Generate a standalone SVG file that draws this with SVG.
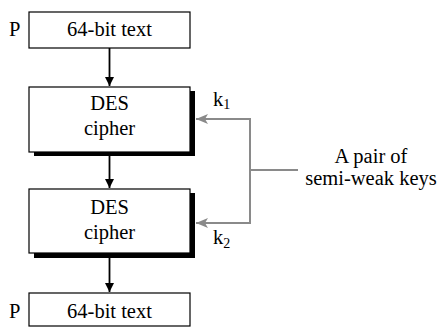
<svg xmlns="http://www.w3.org/2000/svg" width="443" height="327" viewBox="0 0 443 327">
<defs>
<style>
text{font-family:"Liberation Serif","Times New Roman",serif;font-size:20.5px;fill:#000}
.sub{font-size:14px}
.box{fill:#fff;stroke:#000;stroke-width:1.2}
.sh{fill:#000}
.blk{stroke:#000;stroke-width:1.8;fill:none}
.gr{stroke:#8a8a8a;stroke-width:2;fill:none}
</style>
<marker id="ab" viewBox="0 0 10 10" refX="10" refY="5" markerWidth="9" markerHeight="9" markerUnits="userSpaceOnUse" orient="auto"><path d="M0,0 L10,5 L0,10 Z" fill="#000"/></marker>
<marker id="ag" viewBox="0 0 12 10" refX="12" refY="5" markerWidth="12" markerHeight="10" markerUnits="userSpaceOnUse" orient="auto"><path d="M0,0 L12,5 L0,10 L3,5 Z" fill="#8a8a8a"/></marker>
</defs>
<rect width="443" height="327" fill="#fff"/>
<g id="top">
<rect class="box" x="29" y="12" width="161" height="36"/>
<text x="109.5" y="35.5" text-anchor="middle">64-bit text</text>
<text x="9" y="35.5">P</text>
</g>
<g id="des1">
<rect class="sh" x="34" y="91" width="161" height="65"/>
<rect class="box" x="29" y="87" width="161" height="65"/>
<text x="109.5" y="110" text-anchor="middle">DES</text>
<text x="109.5" y="135" text-anchor="middle">cipher</text>
</g>
<g id="des2">
<rect class="sh" x="34" y="193" width="161" height="65"/>
<rect class="box" x="29" y="189" width="161" height="64"/>
<text x="109.5" y="214" text-anchor="middle">DES</text>
<text x="109.5" y="239" text-anchor="middle">cipher</text>
</g>
<g id="bottom">
<rect class="box" x="29" y="293" width="161" height="33"/>
<text x="109.5" y="318" text-anchor="middle">64-bit text</text>
<text x="9" y="318">P</text>
</g>
<g id="keys">
<text x="371" y="163" text-anchor="middle">A pair of</text>
<text x="371" y="185" text-anchor="middle">semi-weak keys</text>
<text x="213" y="106">k<tspan class="sub" dy="3">1</tspan></text>
<text x="213" y="244">k<tspan class="sub" dy="4">2</tspan></text>
</g>
<g id="connectors">
<line class="blk" x1="109.5" y1="48" x2="109.5" y2="86" marker-end="url(#ab)"/>
<line class="blk" x1="109.5" y1="156" x2="109.5" y2="188" marker-end="url(#ab)"/>
<line class="blk" x1="109.5" y1="258" x2="109.5" y2="292" marker-end="url(#ab)"/>
<path class="gr" d="M250,119 H196" marker-end="url(#ag)"/>
<path class="gr" d="M250,223 H196" marker-end="url(#ag)"/>
<path class="gr" d="M250,118 V224 M250,170 H298"/>
</g>
</svg>
